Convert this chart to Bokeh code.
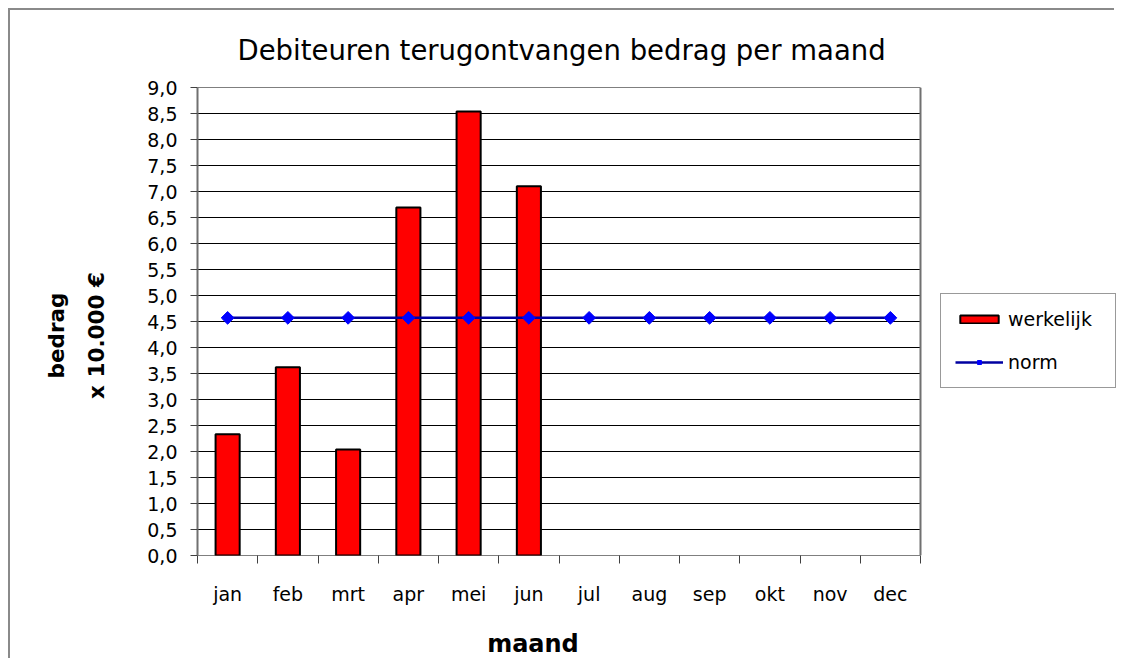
import math
from bokeh.plotting import figure
from bokeh.models import (Range1d, FixedTicker, LinearAxis, Legend, LegendItem, Span)
from bokeh.embed import file_html
from bokeh.resources import INLINE

# ---- data ----
months = ["jan", "feb", "mrt", "apr", "mei", "jun", "jul", "aug", "sep", "okt", "nov", "dec"]
werkelijk = [2.33, 3.62, 2.04, 6.69, 8.54, 7.10]
norm = [4.57, 4.57, 4.57, 4.57, 4.57, 4.57, 4.57, 4.57, 4.57, 4.57, 4.57, 4.57]
y_ticks = [0.0, 0.5, 1.0, 1.5, 2.0, 2.5, 3.0, 3.5, 4.0, 4.5, 5.0, 5.5, 6.0, 6.5, 7.0, 7.5, 8.0, 8.5, 9.0]
y_tick_labels = ["0,0", "0,5", "1,0", "1,5", "2,0", "2,5", "3,0", "3,5", "4,0", "4,5",
                 "5,0", "5,5", "6,0", "6,5", "7,0", "7,5", "8,0", "8,5", "9,0"]
title_text = "Debiteuren terugontvangen bedrag per maand"
x_title = "maand"
y_title_1 = "bedrag"
y_title_2 = "x 10.000 €"

FONT = "DejaVu Sans"

x_pos = [i + 1 for i in range(len(months))]
bar_x = x_pos[:len(werkelijk)]
x_lo = x_pos[0] - 0.5
x_hi = x_pos[-1] + 0.5

# plot area spans 12 month slots (723 px); frame extends further right to hold the legend
FRAME_W = 919
SLOT_PX = 723 / len(months)
x_end = x_lo + FRAME_W / SLOT_PX

# anchor positions (data units) of the axis titles, as in the original layout
X_TITLE_AT = 6.068
Y_TITLE_AT = 4.231

p = figure(width=1106, height=650, output_backend="svg", toolbar_location=None,
           x_range=Range1d(x_lo, x_end), y_range=Range1d(y_ticks[0], y_ticks[-1]),
           min_border_left=187, min_border_right=0, min_border_top=77, min_border_bottom=105,
           styles={"border-left": "2px solid #8a8a8a", "border-top": "2px solid #8a8a8a",
                   "margin-left": "8px", "margin-top": "8px"})
p.background_fill_color = "white"
p.border_fill_color = "white"
p.outline_line_color = None

# horizontal gridlines limited to the 12-month plot area
p.xgrid.visible = False
p.ygrid.visible = False
p.segment(x0=[x_lo] * len(y_ticks), x1=[x_hi] * len(y_ticks), y0=y_ticks, y1=y_ticks,
          line_color="black", line_width=1)
p.add_layout(Span(location=x_hi, dimension="height", line_color="#707070", line_width=2))

bars = p.vbar(x=bar_x, top=werkelijk, width=0.4, fill_color="#ff0000",
              line_color="black", line_width=2)
line = p.line(x=x_pos, y=norm, line_color="#0000a0", line_width=2.5)
marks = p.scatter(x=x_pos, y=norm, marker="square", angle=math.pi / 4, size=9,
                  fill_color="#0000ff", line_color="#0000ff")

# y axis
ya = p.yaxis[0]
ya.ticker = FixedTicker(ticks=y_ticks)
ya.major_label_overrides = dict(zip(y_ticks, y_tick_labels))
ya.major_tick_out = 7
ya.major_tick_in = 0
ya.minor_tick_out = 0
ya.minor_tick_in = 0
ya.major_tick_line_color = "#404040"
ya.axis_line_color = "#707070"
ya.axis_line_width = 2
ya.major_label_standoff = 13
ya.major_label_text_font = FONT
ya.major_label_text_font_size = "19px"
ya.major_label_text_color = "black"

# x axis: labels at centers, ticks at boundaries
xa = p.xaxis[0]
xa.ticker = FixedTicker(ticks=x_pos, minor_ticks=[x_lo] + [x + 0.5 for x in x_pos])
xa.major_label_overrides = dict(zip(x_pos, months))
xa.major_tick_out = 0
xa.major_tick_in = 0
xa.minor_tick_out = 8
xa.minor_tick_in = 0
xa.minor_tick_line_color = "#404040"
xa.axis_line_color = None
xa.major_label_standoff = 19
xa.major_label_text_font = FONT
xa.major_label_text_font_size = "19px"
xa.major_label_text_color = "black"


def title_axis(at, text, standoff, size, vertical=False):
    ax = LinearAxis(ticker=FixedTicker(ticks=[at], minor_ticks=[]),
                    major_label_overrides={at: text},
                    major_tick_out=0, major_tick_in=0, minor_tick_out=0, minor_tick_in=0,
                    axis_line_color=None, major_tick_line_color=None,
                    major_label_standoff=standoff,
                    major_label_text_font=FONT, major_label_text_font_size=size,
                    major_label_text_font_style="bold", major_label_text_color="black")
    if vertical:
        ax.major_label_orientation = "vertical"
    return ax


# main title
p.title.text = title_text
p.title.align = "left"
p.title.offset = 40
p.title.vertical_align = "top"
p.title.text_font = FONT
p.title.text_font_size = "27.5px"
p.title.text_font_style = "normal"
p.title.text_color = "black"
p.title.standoff = 40

# x title
p.add_layout(title_axis(X_TITLE_AT, x_title, 22, "24px"), "below")
# y titles (nearest to axis first)
p.add_layout(title_axis(Y_TITLE_AT, y_title_2, 35, "21.5px", vertical=True), "left")
p.add_layout(title_axis(Y_TITLE_AT, y_title_1, 12, "21.5px", vertical=True), "left")

legend = Legend(items=[LegendItem(label="werkelijk", renderers=[bars]),
                       LegendItem(label="norm", renderers=[line, marks])],
                location=(743, 167), orientation="vertical",
                glyph_width=48, glyph_height=10, label_height=20, label_width=93,
                label_standoff=5, spacing=21, padding=14, margin=0,
                label_text_font=FONT, label_text_font_size="19px",
                label_text_color="black",
                border_line_color="#333333", border_line_width=1,
                background_fill_color="white", background_fill_alpha=1)
p.add_layout(legend, "center")

open("out.html", "w").write(file_html(p, INLINE))
